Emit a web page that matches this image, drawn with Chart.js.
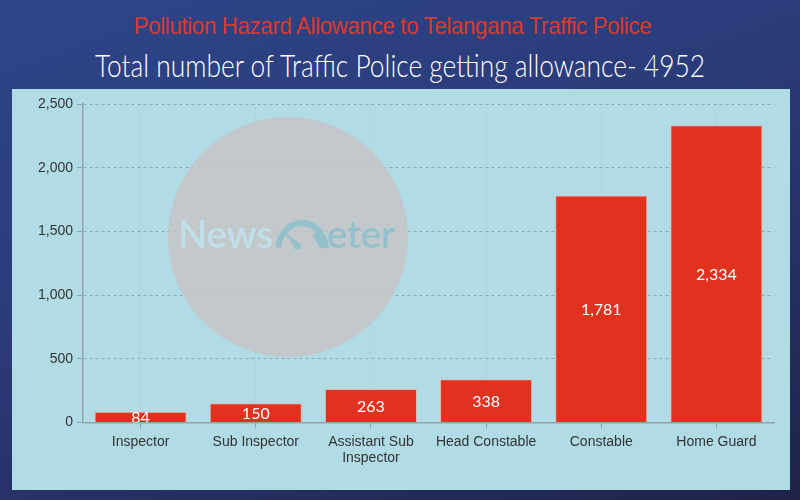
<!DOCTYPE html>
<html lang="en">
<head>
    <meta charset="UTF-8">
    <script src="https://cdn.jsdelivr.net/npm/chart.js"></script>
    <title>Pollution Hazard Allowance</title>
    <style>
        html, body { margin: 0; padding: 0; }
        body {
            width: 800px; height: 500px; overflow: hidden; position: relative;
            background: linear-gradient(160deg, #2e4689 0%, #2a3a78 45%, #1f2349 100%);
        }
        .titulo1 {
            position: absolute; left: 0; width: 785px; top: 12px; text-align: center;
            font-family: "Liberation Sans", sans-serif;
            font-size: 24px; color: #d93a2c; letter-spacing: -0.4px;
            transform: scaleX(0.93); transform-origin: 392px 0;
        }
        .titulo2 {
            position: absolute; left: 0; width: 800px; top: 46px; text-align: center;
            font-family: Lato, sans-serif; font-weight: 300;
            font-size: 31px; color: #ffffff;
            transform: scaleX(0.85); transform-origin: 400px 0;
        }
        .painel {
            position: absolute; left: 12px; top: 89px; width: 778px; height: 401px;
            background: #b2dce5;
        }
    </style>
</head>
<body>
    <div class="titulo1">Pollution Hazard Allowance to Telangana Traffic Police</div>
    <div class="titulo2">Total number of Traffic Police getting allowance- 4952</div>
    <div class="painel">
        <canvas id="myChart-grafico" width="778" height="401"></canvas>
    </div>
<script>
    var categorias = ['Inspector', 'Sub Inspector', ['Assistant Sub', 'Inspector'], 'Head Constable', 'Constable', 'Home Guard'];
    var policiais = [84, 150, 263, 338, 1781, 2334];
    var ticksY = [0, 500, 1000, 1500, 2000, 2500];

    // marca d'agua do NewsMeter atras do grafico
    var marcaDagua = {
        id: 'marcaDagua',
        beforeDatasetsDraw(chart) {
            const c = chart.ctx;
            c.save();
            c.fillStyle = 'rgba(196,196,200,0.85)';
            c.beginPath();
            c.arc(276, 148, 120, 0, Math.PI * 2);
            c.fill();
            c.font = '600 38px Lato, sans-serif';
            c.textBaseline = 'alphabetic';
            c.fillStyle = '#bfe0e8';
            c.fillText('News', 166, 159);
            // simbolo do velocimetro no lugar do M
            c.strokeStyle = '#93c0ca';
            c.lineWidth = 6;
            c.beginPath();
            c.ellipse(290, 162, 24, 28, 0, Math.PI * 1.04, Math.PI * 1.97);
            c.stroke();
            c.fillStyle = '#93c0ca';
            c.beginPath();
            c.moveTo(305, 141);
            c.lineTo(316, 159);
            c.lineTo(308, 159);
            c.lineTo(301, 147);
            c.closePath();
            c.fill();
            c.beginPath();
            c.moveTo(271, 142);
            c.lineTo(283, 158);
            c.lineTo(288, 155);
            c.closePath();
            c.fill();
            c.beginPath();
            c.arc(285, 157, 3.5, 0, Math.PI * 2);
            c.fill();
            c.fillText('eter', 315, 159);
            c.restore();
        }
    };

    // rotulos brancos dentro das barras
    var rotulos = {
        id: 'rotulos',
        afterDatasetsDraw(chart) {
            const c = chart.ctx;
            const area = chart.chartArea;
            const meta = chart.getDatasetMeta(0);
            c.save();
            c.beginPath();
            c.rect(area.left, area.top, area.right - area.left, area.bottom - area.top);
            c.clip();
            c.font = '16px Lato, sans-serif';
            c.fillStyle = '#ffffff';
            c.textAlign = 'center';
            c.textBaseline = 'middle';
            meta.data.forEach((barra, i) => {
                const meio = (barra.y + barra.base) / 2;
                c.fillText(policiais[i].toLocaleString('en-US'), barra.x, meio + 1);
            });
            c.restore();
        }
    };

    const ctx = document.getElementById('myChart-grafico');
    var grafico = new Chart(ctx, {
        type: 'bar',
        data: {
            labels: categorias,
            datasets: [{
                label: 'Traffic Police',
                data: policiais,
                backgroundColor: '#e0321f',
                borderColor: 'rgba(250,170,160,0.8)',
                borderWidth: { top: 1, left: 1, right: 1, bottom: 0 },
                categoryPercentage: 0.8,
                barPercentage: 1.0
            }]
        },
        options: {
            responsive: false,
            animation: false,
            layout: { padding: { top: 15, right: 16, bottom: 18, left: 22 } },
            plugins: {
                legend: { display: false },
                tooltip: { enabled: false }
            },
            scales: {
                x: {
                    grid: {
                        offset: false,
                        color: 'rgba(160,185,195,0.8)',
                        tickColor: '#8fa3aa',
                        tickLength: 6
                    },
                    border: { color: '#8fa3aa', width: 1.5, dash: [1, 3] },
                    ticks: {
                        color: '#333',
                        font: { family: 'Liberation Sans', size: 14 },
                        maxRotation: 0,
                        padding: 5
                    }
                },
                y: {
                    min: 0,
                    max: 2500,
                    afterBuildTicks(scale) {
                        scale.ticks = ticksY.map(v => ({ value: v }));
                    },
                    grid: {
                        color: '#8fa9b2',
                        tickColor: '#8fa3aa',
                        tickLength: 6
                    },
                    border: { color: '#8fa3aa', width: 1.5, dash: [3, 3] },
                    ticks: {
                        color: '#333',
                        font: { family: 'Liberation Sans', size: 14 },
                        padding: 4,
                        callback: v => v.toLocaleString('en-US')
                    }
                }
            }
        },
        plugins: [marcaDagua, rotulos]
    });
</script>
</body>
</html>
